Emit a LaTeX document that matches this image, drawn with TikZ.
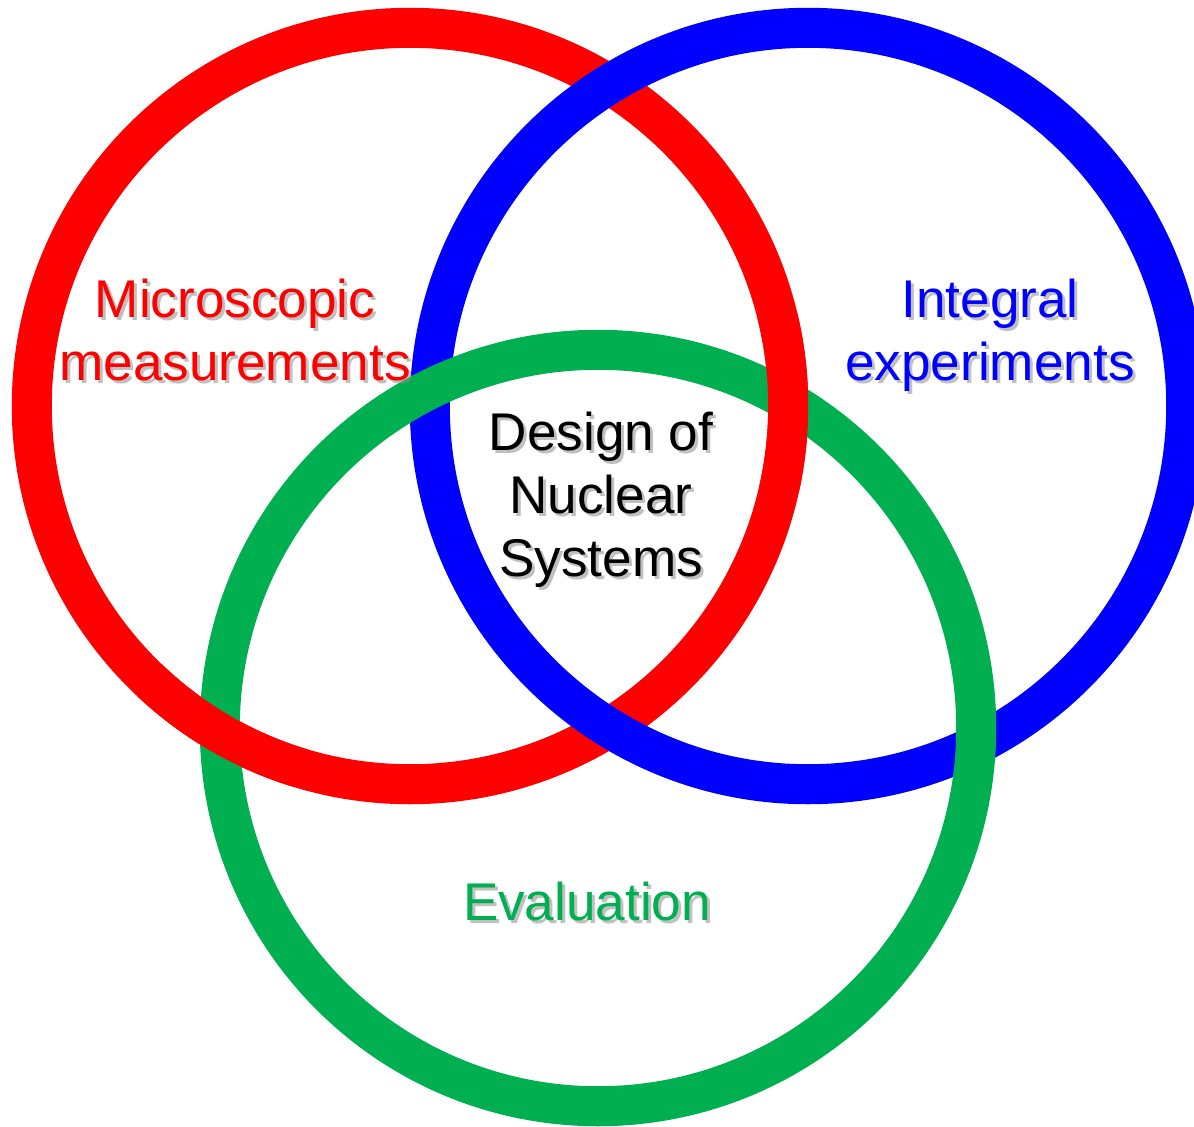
\documentclass[tikz,border=0pt]{standalone}
\usepackage{fontspec}
\setmainfont{Liberation Sans}
\definecolor{ringred}{RGB}{255,0,0}
\definecolor{ringblue}{RGB}{0,0,255}
\definecolor{ringgreen}{RGB}{0,176,80}
\tikzset{
  ring/.style={draw=#1, line width=0.4cm},
  lbl/.style={text=#1, align=center, anchor=base, inner sep=0pt,
    font=\fontsize{15.1}{17.9}\selectfont},
  shd/.style={lbl=black!45, opacity=0.55, xshift=0.03cm, yshift=-0.03cm}
}

\begin{document}
\begin{tikzpicture}[x=0.01cm,y=-0.01cm]
\useasboundingbox (0,0) rectangle (1194,1126);
\clip (0,0) rectangle (1194,1126);
% ring centres
\coordinate (r) at (410,406);
\coordinate (b) at (808,406);
\coordinate (g) at (598,728);
\draw[ring=ringred] (r) circle [radius=3.78cm];
\draw[ring=ringblue] (b) circle [radius=3.78cm];
\draw[ring=ringgreen] (g) circle [radius=3.78cm];
% red lies over green where the two cross
\begin{scope}
  \clip (788,401) circle [radius=0.9cm] (220,733) circle [radius=0.9cm];
  \draw[ring=ringred] (r) circle [radius=3.78cm];
\end{scope}
% labels (base = last line), each with a soft shadow
\node[shd] (ms') at (235,380) {Microscopic\\measurements};
\node[lbl=ringred] (ms) at (235,380) {Microscopic\\measurements};
\node[shd] (ie') at (990,380) {Integral\\experiments};
\node[lbl=ringblue] (ie) at (990,380) {Integral\\experiments};
\node[shd] (dn') at (601,576) {Design of\\Nuclear\\Systems};
\node[lbl=black] (dn) at (601,576) {Design of\\Nuclear\\Systems};
\node[shd] (ev') at (587,920) {Evaluation};
\node[lbl=ringgreen] (ev) at (587,920) {Evaluation};
\end{tikzpicture}
\end{document}
